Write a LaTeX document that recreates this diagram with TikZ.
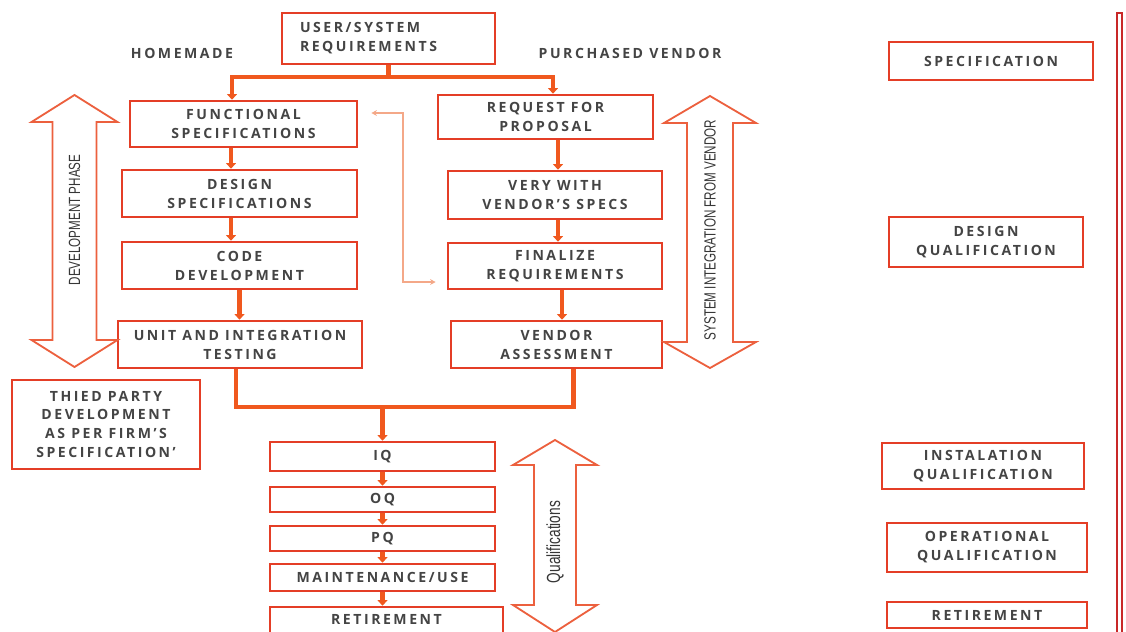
\documentclass[tikz,border=0pt]{standalone}
\usepackage{fontspec}
\setmainfont{Open Sans}[LetterSpace=18]
\newfontfamily\narrowfont{Liberation Sans}[FakeStretch=0.72]
\usetikzlibrary{arrows.meta}
\newcommand{\unitpx}{0.025cm}
\definecolor{boxred}{RGB}{228,62,38}
\definecolor{linkorange}{RGB}{240,88,30}
\definecolor{arrowred}{RGB}{236,96,62}
\definecolor{thinorange}{RGB}{244,168,136}
\definecolor{txtgray}{RGB}{68,68,68}
\definecolor{sidered}{RGB}{200,40,40}
\tikzset{
  box/.style={draw=boxred, line width=1.8pt, fill=white, align=center, inner sep=0pt,
    text=txtgray, font=\fontsize{10}{13.5}\selectfont\bfseries},
  boxsize/.style 2 args={minimum width=#1*\unitpx, minimum height=#2*\unitpx},
  conn/.style={draw=linkorange, line width=3.4pt},
  blk/.style={draw=arrowred, line width=1.3pt, line join=miter, fill=white},
  vtext/.style={text=txtgray!80!black, font=\narrowfont\fontsize{11.5}{13}\selectfont, inner sep=0pt},
  head/.style={text=txtgray, font=\fontsize{10}{11}\selectfont\bfseries},
  link/.style={draw=thinorange, line width=0.9pt},
}
\begin{document}
\begin{tikzpicture}[x=\unitpx, y=-\unitpx, >={Triangle[width=7pt,length=4pt]}]
  \useasboundingbox (0,0) rectangle (1126,632);
  % top
  \node[box, boxsize={213}{51}, align=left, text width=177*\unitpx] (usr) at (388.5,38.5) {USER/SYSTEM\\REQUIREMENTS};
  \node[head] (home) at (182,53) {HOMEMADE};
  \node[head] (vend) at (630,53) {PURCHASED VENDOR};
  % homemade column
  \node[box, boxsize={227}{46}] (fs) at (243.5,124) {FUNCTIONAL\\SPECIFICATIONS};
  \node[box, boxsize={235}{47}] (ds) at (239.5,193.5) {DESIGN\\SPECIFICATIONS};
  \node[box, boxsize={235}{47}] (cd) at (239.5,265.5) {CODE\\DEVELOPMENT};
  \node[box, boxsize={244}{47}] (uit) at (240,344.5) {UNIT AND INTEGRATION\\TESTING};
  \node[box, boxsize={188}{89}] (tp) at (106,424.5) {THIED PARTY\\DEVELOPMENT\\AS PER FIRM’S\\SPECIFICATION’};
  % vendor column
  \node[box, boxsize={215}{44}] (rfp) at (545.5,117) {REQUEST FOR\\PROPOSAL};
  \node[box, boxsize={214}{48}] (vwv) at (555,195) {VERY WITH\\VENDOR’S SPECS};
  \node[box, boxsize={214}{46}] (fr) at (555,266) {FINALIZE\\REQUIREMENTS};
  \node[box, boxsize={211}{47}] (va) at (556.5,344.5) {VENDOR\\ASSESSMENT};
  % qualification column
  \node[box, boxsize={225}{29}] (iq) at (382.5,456.5) {IQ};
  \node[box, boxsize={225}{25}] (oq) at (382.5,499.5) {OQ};
  \node[box, boxsize={225}{25}] (pq) at (382.5,538.5) {PQ};
  \node[box, boxsize={225}{27}] (mu) at (382.5,577.5) {MAINTENANCE/USE};
  \node[box, boxsize={233}{35}, text depth=10*\unitpx] (ret) at (386.5,624.5) {RETIREMENT};
  % right side
  \node[box, boxsize={204}{38}] (spec) at (991,61) {SPECIFICATION};
  \node[box, boxsize={194}{50}] (dq) at (986,242) {DESIGN\\QUALIFICATION};
  \node[box, boxsize={202}{46}] (inq) at (983,466) {INSTALATION\\QUALIFICATION};
  \node[box, boxsize={200}{49}] (opq) at (987,547.5) {OPERATIONAL\\QUALIFICATION};
  \node[box, boxsize={200}{26}] (rq) at (987,615) {RETIREMENT};
  \draw[draw=sidered, line width=0.9pt] (1117,13) rectangle (1122,650);
  % split
  \coordinate (hl) at (232,77);
  \coordinate (hr) at (553,77);
  \coordinate (lx) at (231,0);
  \coordinate (rx) at (558,0);
  \draw[conn] (usr.south) -- (usr.south |- hl);
  \draw[conn,<->] (hl |- fs.north) -- (hl) -- (hr) -- (hr |- rfp.north);
  \draw[conn,->] (fs.south -| lx) -- (ds.north -| lx);
  \draw[conn,->] (ds.south -| lx) -- (cd.north -| lx);
  \draw[conn,->] (cd.south) -- (cd.south |- uit.north);
  \draw[conn,->] (rfp.south -| rx) -- (vwv.north -| rx);
  \draw[conn,->] (vwv.south -| rx) -- (fr.north -| rx);
  \draw[conn,->] ([xshift=7*\unitpx]fr.south) -- ([xshift=7*\unitpx]fr.south |- va.north);
  % merge
  \coordinate (mg) at (387,407);
  \draw[conn] ([xshift=-4*\unitpx]uit.south) |- (mg) -| ([xshift=17*\unitpx]va.south);
  \draw[conn,->] (iq.north |- mg) -- (iq.north);
  \foreach \a/\b in {iq/oq, oq/pq, pq/mu, mu/ret}
    \draw[conn, line width=3pt, ->] (\a.south) -- (\a.south |- \b.north);
  % thin link
  \coordinate (lk) at (403,282);
  \draw[link, {Stealth[length=4pt,width=4pt]}-{Stealth[length=4pt,width=4pt]}]
    ([xshift=13*\unitpx, yshift=11*\unitpx]fs.east) -| (lk) -- ([xshift=-11*\unitpx, yshift=-16*\unitpx]fr.west);
  % double arrows
  \draw[blk] (74.5,95) -- (117.5,122) -- (96.5,122) -- (96.5,340) -- (117.5,340) -- (74.5,367)
    -- (31.5,340) -- (52.5,340) -- (52.5,122) -- (31.5,122) -- cycle;
  \node[vtext, rotate=90] (devph) at (74.5,220) {DEVELOPMENT PHASE};
  \draw[blk] (710,96) -- (756,123) -- (733,123) -- (733,342) -- (756,342) -- (710,368)
    -- (664,342) -- (687,342) -- (687,123) -- (664,123) -- cycle;
  \node[vtext, rotate=90] (sysint) at (710,230) {SYSTEM INTEGRATION FROM VENDOR};
  \draw[blk] (555,440) -- (597,465) -- (576,465) -- (576,605) -- (597,605) -- (555,632)
    -- (513,605) -- (534,605) -- (534,465) -- (513,465) -- cycle;
  \node[vtext, rotate=90, font=\narrowfont\fontsize{13.5}{15}\selectfont] (qual) at (555,542) {Qualifications};
\end{tikzpicture}
\end{document}
